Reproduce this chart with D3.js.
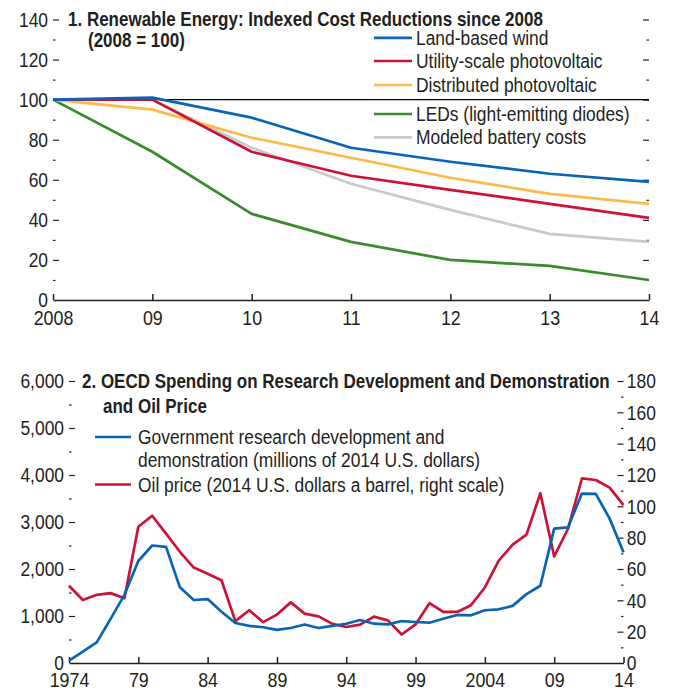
<!DOCTYPE html>
<html>
<head>
<meta charset="utf-8">
<script src="https://cdn.jsdelivr.net/npm/d3@7"></script>
<style>
  body { margin: 0; background: #fff; }
  text { font-family: "Liberation Sans", Arial, sans-serif; fill: #231f20; }
</style>
</head>
<body>
<svg id="chart"></svg>
<script>
const W = 673;
const H = 690;

// panel 1: indexed cost reductions (2008 = 100)
const years1 = [2008, 2009, 2010, 2011, 2012, 2013, 2014];
const yearLabels1 = ["2008", "09", "10", "11", "12", "13", "14"];
const wind = [100, 101, 91, 76, 69, 63, 59];
const utilityPV = [100, 100, 74, 62, 55, 48, 41];
const distributedPV = [100, 95, 81, 71, 61, 53, 48];
const leds = [100, 74, 43, 29, 20, 17, 10];
const battery = [100, 100, 76, 58, 45, 33, 29];
const names1 = ["Land-based wind", "Utility-scale photovoltaic", "Distributed photovoltaic", "LEDs (light-emitting diodes)", "Modeled battery costs"];
const colors1 = ["#0a64b4", "#cc1236", "#fdb94a", "#3a8a2e", "#c9c9c9"];

// panel 2: OECD RD&D spending and oil price
const years2 = d3.range(1974, 2015);
const yearLabels2 = ["1974", "79", "84", "89", "94", "99", "2004", "09", "14"];
const rdd = [50, 240, 440, 940, 1450, 2170, 2500, 2470, 1610, 1340, 1360, 1090, 850, 790, 760, 705, 745, 820, 745, 790, 835, 915,
  836, 822, 893, 872, 857, 943, 1022, 1015, 1122, 1143, 1215, 1465, 1643, 2858, 2887, 3605, 3600, 3072, 2358];
const oil = [49.3, 40.2, 43.5, 44.6, 41.3, 87, 94, 82.6, 71, 60.9, 57, 52.8, 26.7, 33.7, 26.1, 30.9, 38.7, 31.5, 29.8, 25, 23, 24.5,
  29.6, 27.2, 18.2, 24.6, 38.2, 32.6, 32.6, 36.9, 48.2, 65.4, 75.5, 81.9, 108.3, 68, 85.7, 117.9, 116.8, 111.9, 100.8];
const names2 = ["Government research development and", "demonstration (millions of 2014 U.S. dollars)", "Oil price (2014 U.S. dollars a barrel, right scale)"];
const colors2 = ["#0a64b4", "#cc1236"];

const INK = "#231f20";
const NARROW = 0.85;  // squeeze Liberation Sans toward a condensed face

const svg = d3.select("#chart").attr("width", W).attr("height", H);

function label(g, x, y, str, size, bold, sx) {
  return g.append("text")
    .attr("transform", `translate(${x},${y}) scale(${sx || NARROW},1)`)
    .attr("font-size", size).attr("font-weight", bold ? "bold" : "normal")
    .text(str);
}

function styleAxis(g, fs) {
  g.select(".domain").remove();
  g.selectAll(".tick line").attr("stroke", INK).attr("stroke-width", 1.2);
  g.selectAll(".tick text").attr("font-size", fs).attr("fill", INK)
    .style("font-family", '"Liberation Sans", Arial, sans-serif');
}

function xAxisStyle(g) {
  g.select(".domain").attr("stroke", INK).attr("stroke-width", 1.5);
  g.selectAll(".tick line").attr("stroke", INK).attr("stroke-width", 1.5);
  g.selectAll(".tick text").attr("font-size", 21).attr("fill", INK)
    .attr("transform", "scale(0.85,1)")
    .style("font-family", '"Liberation Sans", Arial, sans-serif');
}

// ---------- panel 1 ----------
const x1 = d3.scaleLinear().domain([2008, 2014]).range([53, 649]);
const y1 = d3.scaleLinear().domain([0, 140]).range([300, 19.5]);
const g1 = svg.append("g");

const yAx1 = g1.append("g").attr("transform", `translate(${x1(2008)},0)`)
  .call(d3.axisLeft(y1).tickValues(d3.range(0, 141, 20)).tickSizeInner(-6).tickSizeOuter(0).tickPadding(6));
styleAxis(yAx1, 21);
yAx1.selectAll(".tick text").attr("transform", "scale(0.83,1)");
yAx1.selectAll(".tick").filter(d => d === 0).select("line").remove();
const yAx1m = g1.append("g").attr("transform", `translate(${x1(2008)},0)`)
  .call(d3.axisLeft(y1).tickValues(d3.range(10, 140, 20)).tickSizeInner(-2.5).tickSizeOuter(0).tickFormat(""));
styleAxis(yAx1m, 0);

const yAx1r = g1.append("g").attr("transform", `translate(${x1(2014)},0)`)
  .call(d3.axisRight(y1).tickValues(d3.range(20, 141, 20)).tickSizeInner(-6).tickSizeOuter(0).tickFormat(""));
styleAxis(yAx1r, 0);
const yAx1rm = g1.append("g").attr("transform", `translate(${x1(2014)},0)`)
  .call(d3.axisRight(y1).tickValues(d3.range(10, 140, 20)).tickSizeInner(-2.5).tickSizeOuter(0).tickFormat(""));
styleAxis(yAx1rm, 0);

// reference line at 100
g1.append("line").attr("x1", x1(2008)).attr("x2", x1(2014))
  .attr("y1", y1(100)).attr("y2", y1(100)).attr("stroke", "#000").attr("stroke-width", 1.2);

const line1 = d3.line().x((d, i) => x1(years1[i])).y(d => y1(d));
const series1 = [wind, utilityPV, distributedPV, leds, battery];
[4, 3, 2, 1, 0].forEach(k => {
  g1.append("path").datum(series1[k]).attr("d", line1)
    .attr("fill", "none").attr("stroke", colors1[k]).attr("stroke-width", 2.7)
    .attr("stroke-linejoin", "round");
});

const xAx1 = g1.append("g").attr("transform", "translate(0,300)")
  .call(d3.axisBottom(x1).tickValues(years1).tickSizeInner(-6).tickSizeOuter(0).tickPadding(10)
    .tickFormat((d, i) => yearLabels1[i]));
xAxisStyle(xAx1);

label(g1, 68, 26, "1. Renewable Energy: Indexed Cost Reductions since 2008", 20, true);
label(g1, 88, 47, "(2008 = 100)", 20, true);

const legY1 = [37.8, 61, 85, 114, 137.4];
names1.forEach((n, i) => {
  g1.append("line").attr("x1", 374).attr("x2", 412).attr("y1", legY1[i]).attr("y2", legY1[i])
    .attr("stroke", colors1[i]).attr("stroke-width", 2.7);
  label(g1, 416, legY1[i] + 7, n, 20, false, 0.87);
});

// ---------- panel 2 ----------
const x2 = d3.scaleLinear().domain([1974, 2014]).range([69, 623.5]);
const yL = d3.scaleLinear().domain([0, 6000]).range([663, 381]);
const yR = d3.scaleLinear().domain([0, 180]).range([663, 381]);
const g2 = svg.append("g");

const yAx2 = g2.append("g").attr("transform", `translate(${x2(1974)},0)`)
  .call(d3.axisLeft(yL).tickValues(d3.range(0, 6001, 1000)).tickSizeInner(-6).tickSizeOuter(0).tickPadding(6)
    .tickFormat(d => d === 0 ? "0" : d3.format(",")(d)));
styleAxis(yAx2, 21);
yAx2.selectAll(".tick text").attr("transform", "scale(0.83,1)");
yAx2.selectAll(".tick").filter(d => d === 0).select("line").remove();
const yAx2m = g2.append("g").attr("transform", `translate(${x2(1974)},0)`)
  .call(d3.axisLeft(yL).tickValues(d3.range(500, 6000, 1000)).tickSizeInner(-2.5).tickSizeOuter(0).tickFormat(""));
styleAxis(yAx2m, 0);

const yAx2r = g2.append("g").attr("transform", `translate(${x2(2014)},0)`)
  .call(d3.axisRight(yR).tickValues(d3.range(0, 181, 20)).tickSizeInner(-6).tickSizeOuter(0).tickPadding(4));
styleAxis(yAx2r, 21);
yAx2r.selectAll(".tick text").attr("transform", "scale(0.83,1)");
yAx2r.selectAll(".tick").filter(d => d === 0).select("line").remove();
const yAx2rm = g2.append("g").attr("transform", `translate(${x2(2014)},0)`)
  .call(d3.axisRight(yR).tickValues(d3.range(10, 180, 20)).tickSizeInner(-2.5).tickSizeOuter(0).tickFormat(""));
styleAxis(yAx2rm, 0);

const xAx2 = g2.append("g").attr("transform", "translate(0,663)")
  .call(d3.axisBottom(x2).tickValues(d3.range(1974, 2015, 5)).tickSizeInner(-6).tickSizeOuter(0).tickPadding(9)
    .tickFormat((d, i) => yearLabels2[i]));
xAxisStyle(xAx2);

const lineL = d3.line().x((d, i) => x2(years2[i])).y(d => yL(d));
const lineR = d3.line().x((d, i) => x2(years2[i])).y(d => yR(d));
g2.append("path").datum(oil).attr("d", lineR).attr("fill", "none")
  .attr("stroke", colors2[1]).attr("stroke-width", 2.7).attr("stroke-linejoin", "round");
g2.append("path").datum(rdd).attr("d", lineL).attr("fill", "none")
  .attr("stroke", colors2[0]).attr("stroke-width", 2.7).attr("stroke-linejoin", "round");

label(g2, 82, 388, "2. OECD Spending on Research Development and Demonstration", 20, true);
label(g2, 103, 413, "and Oil Price", 20, true);

[437, 484.5].forEach((y, i) => {
  g2.append("line").attr("x1", 95).attr("x2", 131).attr("y1", y).attr("y2", y)
    .attr("stroke", colors2[i]).attr("stroke-width", 2.7);
});
[444, 467, 491.5].forEach((y, i) => label(g2, 138, y, names2[i], 20, false, 0.87));
</script>
</body>
</html>
